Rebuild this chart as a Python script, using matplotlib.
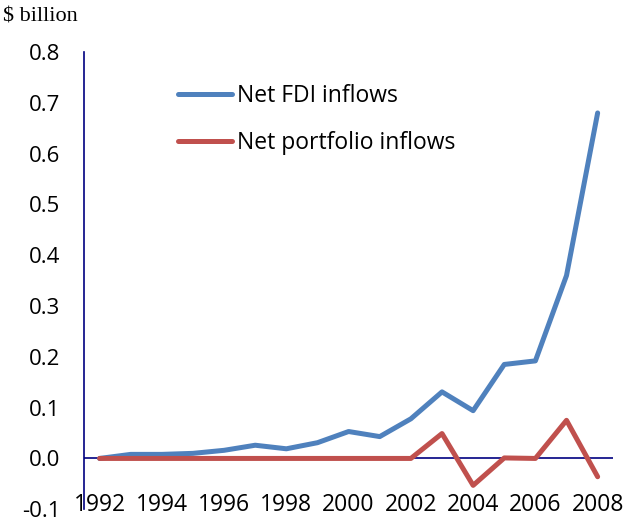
import matplotlib
matplotlib.use('Agg')
import matplotlib.pyplot as plt

# data
years = list(range(1992, 2009))
fdi = [0.0, 0.008, 0.008, 0.010, 0.016, 0.026, 0.019, 0.031, 0.053,
       0.043, 0.078, 0.131, 0.094, 0.185, 0.192, 0.360, 0.680]
portfolio = [0.0, 0.0, 0.0, 0.0, 0.0, 0.0, 0.0, 0.0, 0.0,
             0.0, 0.0, 0.049, -0.053, 0.001, 0.0, 0.075, -0.036]
year_ticks = list(range(1992, 2009, 2))
y_ticks = [-0.1, 0.0, 0.1, 0.2, 0.3, 0.4, 0.5, 0.6, 0.7, 0.8]

plt.rcParams['font.family'] = ['Open Sans', 'DejaVu Sans']

fig = plt.figure(figsize=(6.27, 5.25), dpi=100)
ax = fig.add_axes([0.134, 0.03, 0.844, 0.871])

ax.plot(years, fdi, color='#4F81BD', lw=3.6, solid_capstyle='round',
        label='Net FDI inflows', zorder=3)
ax.plot(years, portfolio, color='#C0504D', lw=3.6, solid_capstyle='round',
        label='Net portfolio inflows', zorder=3)
ax.axhline(0, color='#000080', lw=1.2, zorder=2)

ax.set_xlim(1991.5, 2008.5)
ax.set_ylim(-0.1, 0.8)
ax.set_yticks(y_ticks)
ax.set_yticklabels(['%.1f' % v for v in y_ticks])
ax.set_xticks(year_ticks)
ax.set_xticklabels([str(y) for y in year_ticks])
ax.tick_params(axis='y', length=0, pad=17, labelsize=16)
ax.tick_params(axis='x', length=0, pad=-12, labelsize=16.5)

for s in ['top', 'right', 'bottom']:
    ax.spines[s].set_visible(False)
ax.spines['left'].set_color('#000080')
ax.spines['left'].set_linewidth(1.2)

ax.legend(loc='upper left', bbox_to_anchor=(0.178, 0.93), frameon=False,
          fontsize=16.5, handlelength=2.36, handletextpad=0.22,
          labelspacing=1.0, borderpad=0, borderaxespad=0)

fig.text(0.005, 0.967, '$ billion', family='Liberation Serif', fontsize=16,
         va='center', ha='left')

fig.savefig('out.png', dpi=100)
